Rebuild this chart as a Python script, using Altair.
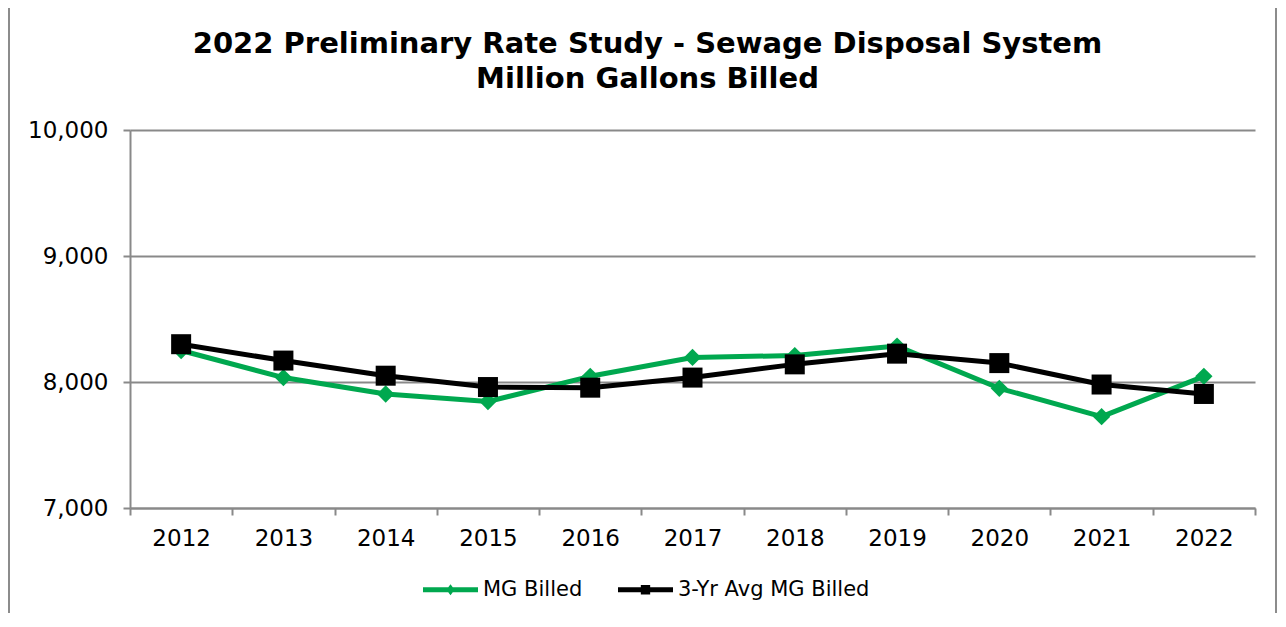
import altair as alt
import pandas as pd

years = ["2012", "2013", "2014", "2015", "2016", "2017", "2018", "2019", "2020", "2021", "2022"]
mg_billed = [8250, 8035, 7905, 7845, 8045, 8195, 8210, 8285, 7950, 7725, 8045]
avg_3yr = [8300, 8170, 8050, 7960, 7955, 8035, 8140, 8225, 8150, 7980, 7905]
series_names = ["MG Billed", "3-Yr Avg MG Billed"]
series_colors = ["#00A84F", "#000000"]
title_lines = ["2022 Preliminary Rate Study - Sewage Disposal System", "Million Gallons Billed"]
y_ticks = [7000, 8000, 9000, 10000]

rows = []
for y, a, b in zip(years, mg_billed, avg_3yr):
    rows.append({"year": y, "series": series_names[0], "value": a})
    rows.append({"year": y, "series": series_names[1], "value": b})
df = pd.DataFrame(rows)

FONT = "DejaVu Sans"
GRAY = "#898989"
W, H = 1125, 378

x_enc = alt.X(
    "year:O",
    bandPosition=0.5,
    scale=alt.Scale(type="band", paddingInner=0, paddingOuter=0, domain=years),
    axis=alt.Axis(
        title=None, labelAngle=0, labelFont=FONT, labelFontSize=23, labelColor="#000000",
        tickBand="extent", tickSize=7, tickColor=GRAY, tickWidth=2,
        domainColor=GRAY, domainWidth=2, grid=False, labelPadding=12,
    ),
)
y_enc = alt.Y(
    "value:Q",
    scale=alt.Scale(domain=[7000, 10000], nice=False, zero=False),
    axis=alt.Axis(
        title=None, values=y_ticks, format=",.0f", labelFont=FONT, labelFontSize=23,
        labelColor="#000000", tickSize=7, tickColor=GRAY, tickWidth=2,
        domainColor=GRAY, domainWidth=2, grid=True, gridColor=GRAY, gridWidth=2,
        labelPadding=15,
    ),
)

base = alt.Chart(df)

layers = []
shapes = ["diamond", "square"]
sizes = [300, 400]
for name, col, shp, sz in zip(series_names, series_colors, shapes, sizes):
    sub = base.transform_filter(alt.datum.series == name)
    layers.append(
        sub.mark_line(strokeWidth=5, strokeJoin="round", strokeCap="round", color=col)
        .encode(x=x_enc, y=y_enc)
    )
    layers.append(
        sub.mark_point(shape=shp, filled=True, size=sz, opacity=1, color=col)
        .encode(x=x_enc, y=y_enc)
    )

legend_paths = [
    "M-1,-0.09H1V0.09H-1Z M0,-0.2L0.15,0L0,0.2L-0.15,0Z",
    "M-1,-0.09H1V0.09H-1Z M-0.17,-0.17H0.17V0.17H-0.17Z",
]
leg = alt.Legend(
    orient="none", legendX=293, legendY=432, direction="horizontal", title=None,
    labelFont=FONT, labelFontSize=21, labelColor="#000000", labelLimit=400,
    symbolSize=3025, symbolStrokeWidth=0, labelOffset=5, columnPadding=35,
)
legend_layer = base.transform_filter("false").mark_point(filled=True, opacity=1).encode(
    x=x_enc, y=y_enc,
    color=alt.Color("series:N", scale=alt.Scale(domain=series_names, range=series_colors), legend=leg),
    shape=alt.Shape("series:N", scale=alt.Scale(domain=series_names, range=legend_paths), legend=leg),
)

frame = alt.Chart(alt.Data(values=[{"a": 1}])).mark_rect(
    fill=None, stroke="#8c8c8c", strokeWidth=2
).encode(
    x=alt.value(-121), x2=alt.value(1146), y=alt.value(-124), y2=alt.value(560)
)

chart = alt.layer(frame, *layers, legend_layer).properties(
    width=W, height=H,
    padding={"left": 122, "top": 122, "right": 23, "bottom": 105},
    autosize=alt.AutoSizeParams(type="none"),
    title=alt.TitleParams(
        text=title_lines, font=FONT, fontSize=29, fontWeight="bold", color="#000000",
        anchor="middle", frame="group", dx=-45, offset=-89, lineHeight=35,
    ),
).configure_view(stroke=None)

chart.save("out.html", embed_options={"renderer": "svg", "actions": False})
